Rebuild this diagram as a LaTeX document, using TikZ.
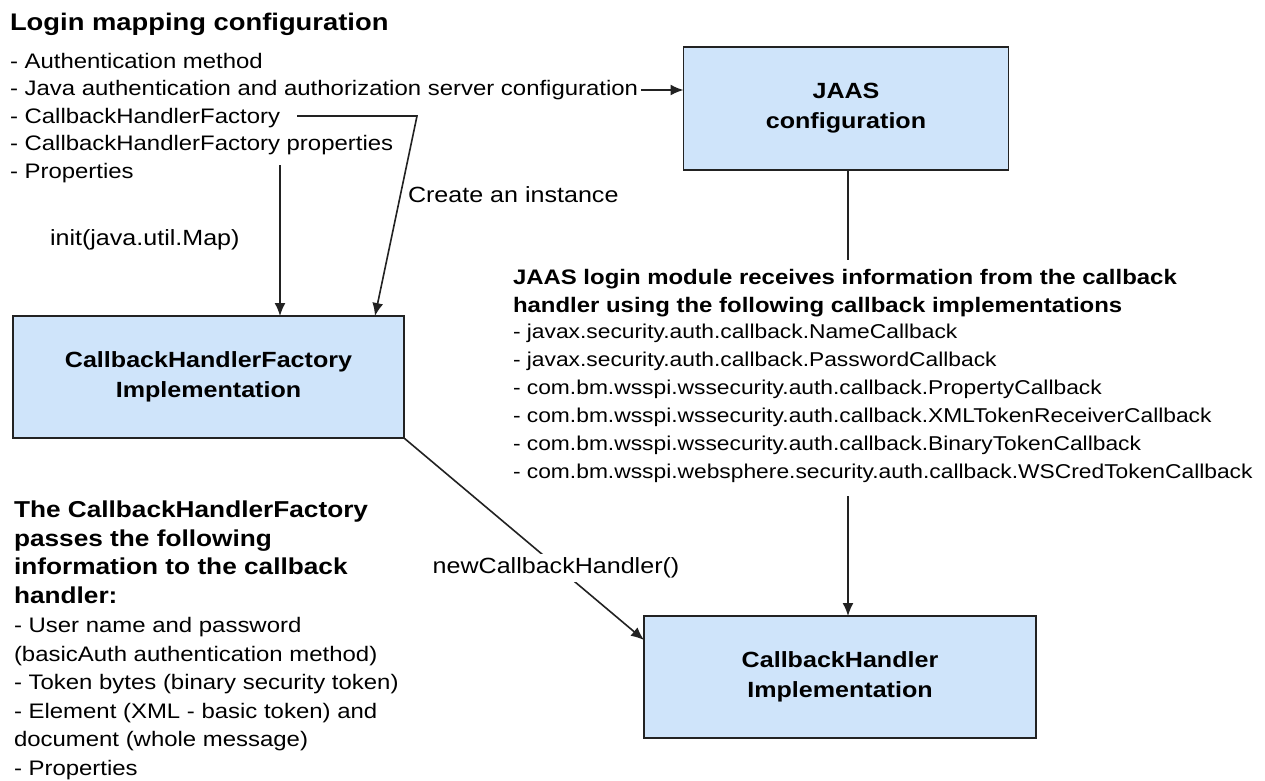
\documentclass[tikz,border=0pt]{standalone}
\usepackage{fontspec}
\setmainfont{Liberation Sans}[FakeStretch=1.14]
\usetikzlibrary{arrows.meta}

\definecolor{boxblue}{HTML}{CFE4FA}
\definecolor{edge}{HTML}{222222}

\newcommand{\lstfont}[2]{\fontsize{#1}{#2}\selectfont}

\begin{document}
\begin{tikzpicture}[x=1pt,y=-1pt]
\tikzset{ >={Latex[length=13pt,width=11pt]}, inner sep=0pt, outer sep=0pt,
  impl/.style={draw=edge, fill=boxblue, line width=1.8pt, align=center,
    font=\lstfont{22}{30}\bfseries},
  lst/.style={anchor=north west, align=left},
  lbl/.style={font=\lstfont{22}{26}},
  ln/.style={draw=edge, line width=1.6pt},
}

\useasboundingbox [fill=white] (0,0) rectangle (1265,780);

%\draw [lightgray, dashed](0,0) grid [step=50] (1265,780);

% boxes
\node [impl, minimum width=325, minimum height=123] (jaas) at (846,108.5) {JAAS\\configuration};
\node [impl, minimum width=391, minimum height=122] (chf)  at (208.5,377) {CallbackHandlerFactory\\Implementation};
\node [impl, minimum width=392, minimum height=122] (cbh)  at (840,677)   {CallbackHandler\\Implementation};

% text blocks
\node [anchor=base west, font=\lstfont{24}{28}\bfseries] (loginhd) at (10,30) {Login mapping configuration};
\node [lst, font=\lstfont{21}{27.5}] (loginlst) at (10,48.75) {\strut- Authentication method\\
  - Java authentication and authorization server configuration\\
  - CallbackHandlerFactory\\
  - CallbackHandlerFactory properties\\
  - Properties};

\node [lst, font=\lstfont{21}{28}\bfseries] (modhd) at (513,264.4) {\strut JAAS login module receives information from the callback\\
  handler using the following callback implementations};
\node [lst, font=\lstfont{20}{28}] (modlst) at (513,318.4) {\strut- javax.security.auth.callback.NameCallback\\
  - javax.security.auth.callback.PasswordCallback\\
  - com.bm.wsspi.wssecurity.auth.callback.PropertyCallback\\
  - com.bm.wsspi.wssecurity.auth.callback.XMLTokenReceiverCallback\\
  - com.bm.wsspi.wssecurity.auth.callback.BinaryTokenCallback\\
  - com.bm.wsspi.websphere.security.auth.callback.WSCredTokenCallback};

\node [lst, font=\lstfont{23}{28.5}\bfseries] (passhd) at (14,498) {\strut The CallbackHandlerFactory\\
  passes the following\\
  information to the callback\\
  handler:};
\node [lst, font=\lstfont{21}{28.5}] (passlst) at (14,613) {\strut- User name and password\\
  (basicAuth authentication method)\\
  - Token bytes (binary security token)\\
  - Element (XML - basic token) and\\
  document (whole message)\\
  - Properties};

% connectors
\coordinate (cfgend)  at (641,90);
\coordinate (factend) at (297,116);
\coordinate (bend)    at (417,116);
\coordinate (propend) at (280,165);
\coordinate (modtop)  at (848,260);
\coordinate (modend)  at (848,496);

\draw [ln, ->] (cfgend) -- (cfgend -| jaas.west);
\draw [ln, ->] (factend) -- (bend) -- ([xshift=-29pt]chf.north east);
\draw [ln, ->] (propend) -- (propend |- chf.north);
\draw [ln]     (modtop |- jaas.south) -- (modtop);
\draw [ln, ->] (modend) -- (modend |- cbh.north);
\draw [ln, ->] (chf.south east) -- ([yshift=37pt]cbh.west);

% labels
\node [lbl, anchor=base west] (mkinst) at (408,202) {Create an instance};
\node [lbl, anchor=base west] (initmap) at (50,245) {init(java.util.Map)};
\node [lbl, fill=white, inner sep=4pt] (newcb) at (556,568) {newCallbackHandler()};
\end{tikzpicture}
\end{document}
